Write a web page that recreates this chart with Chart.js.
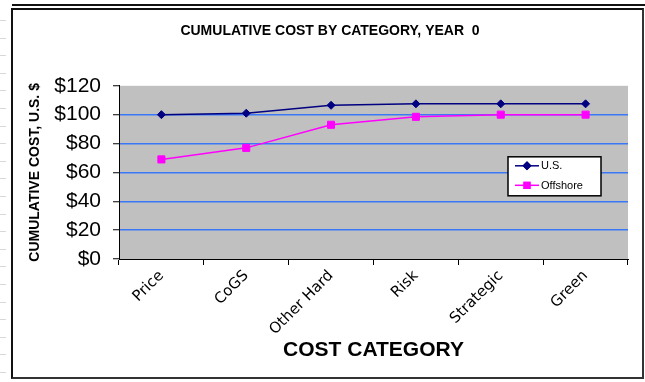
<!DOCTYPE html>
<html>
<head>
<meta charset="utf-8">
<script src="https://cdn.jsdelivr.net/npm/chart.js@4"></script>
<style>
  html, body { margin: 0; padding: 0; background: #fff; }
  #wrap { position: relative; width: 645px; height: 382px; overflow: hidden; }
  #chart { position: absolute; left: 0; top: 0; }
  .frame { position: absolute; left: 11px; top: 8px; width: 629px; height: 367px;
           border: 2px solid #111; border-right-color: #333; border-bottom-color: #333; }
  .topline { position: absolute; left: 12px; top: 4px; width: 633px; height: 2px; background: #111; }
  .rowtick { position: absolute; left: 0; width: 6px; height: 1px; background: #d8d8d8; }
</style>
</head>
<body>
<div id="wrap">
  <div class="topline"></div>
  <div class="frame"></div>
  <canvas id="chart" width="645" height="382"></canvas>
</div>
<script>
// Cost categories along the x axis
const categories = ['Price', 'CoGS', 'Other Hard', 'Risk', 'Strategic', 'Green'];
// Cumulative cost per category, U.S. dollars
const usCost = [100, 101, 106.5, 107.5, 107.5, 107.5];
const offshoreCost = [69, 77, 93, 98.5, 100, 100];
const seriesNames = ['U.S.', 'Offshore'];
// Y axis range and tick spacing
const yMin = 0;
const yMax = 120;
const yStep = 20;

// faint spreadsheet row marks along the left edge
const wrap = document.getElementById('wrap');
for (let y = 20; y < 380; y += 17.6) {
  const d = document.createElement('div');
  d.className = 'rowtick';
  d.style.top = Math.round(y) + 'px';
  wrap.appendChild(d);
}

const SANS = "'Liberation Sans', Arial, sans-serif";
const WIDE = "'DejaVu Sans', Verdana, sans-serif";
const GRID_BLUE = '#3a78f8';

// grey plot area
const plotBackground = {
  id: 'plotBackground',
  beforeDraw(chart) {
    const { ctx, chartArea: a } = chart;
    ctx.save();
    ctx.fillStyle = '#c0c0c0';
    ctx.fillRect(a.left, a.top, a.right - a.left, a.bottom - a.top);
    ctx.restore();
  }
};

// boxed legend inside the plot area
const boxLegend = {
  id: 'boxLegend',
  afterDatasetsDraw(chart) {
    const { ctx, chartArea: a } = chart;
    const x = a.right - 120, y = a.top + 71, w = 93, h = 39;
    ctx.save();
    ctx.fillStyle = '#fff';
    ctx.fillRect(x, y, w, h);
    ctx.strokeStyle = '#000';
    ctx.lineWidth = 1.5;
    ctx.strokeRect(x, y, w, h);
    chart.data.datasets.forEach((ds, i) => {
      const ly = y + 9 + i * 19.5;
      ctx.strokeStyle = ds.borderColor;
      ctx.lineWidth = 1.5;
      ctx.beginPath();
      ctx.moveTo(x + 7, ly);
      ctx.lineTo(x + 31, ly);
      ctx.stroke();
      Chart.helpers.drawPoint(ctx, {
        pointStyle: ds.pointStyle,
        radius: i === 0 ? 3.5 : 4,
        borderWidth: 1
      }, x + 19, ly);
      ctx.fillStyle = ds.borderColor;
      ctx.strokeStyle = ds.borderColor;
      ctx.fill();
      ctx.stroke();
      ctx.fillStyle = '#000';
      ctx.font = '11px ' + SANS;
      ctx.textBaseline = 'middle';
      ctx.textAlign = 'left';
      ctx.fillText(ds.label, x + 33, ly + 0.5);
    });
    ctx.restore();
  }
};

new Chart(document.getElementById('chart'), {
  type: 'line',
  data: {
    labels: categories,
    datasets: [
      {
        label: seriesNames[0],
        data: usCost,
        borderColor: '#000080',
        backgroundColor: '#000080',
        borderWidth: 1.5,
        pointStyle: 'rectRot',
        pointRadius: 4,
        pointBorderWidth: 1,
        tension: 0
      },
      {
        label: seriesNames[1],
        data: offshoreCost,
        borderColor: '#ff00ff',
        backgroundColor: '#ff00ff',
        borderWidth: 1.5,
        pointStyle: 'rect',
        pointRadius: 5,
        pointBorderWidth: 1,
        tension: 0
      }
    ]
  },
  options: {
    responsive: false,
    animation: false,
    events: [],
    layout: { padding: { left: 32, right: 17, top: 0, bottom: 0 } },
    plugins: {
      legend: { display: false },
      tooltip: { enabled: false },
      title: {
        display: true,
        text: 'CUMULATIVE COST BY CATEGORY, YEAR  0',
        color: '#000',
        font: { family: SANS, size: 14, weight: 'bold' },
        padding: { top: 23, bottom: 46 }
      }
    },
    scales: {
      x: {
        offset: true,
        afterFit(s) { s.height = 123; },
        grid: {
          offset: true,
          drawOnChartArea: false,
          drawTicks: true,
          tickLength: 6,
          tickColor: '#000',
          tickWidth: 1
        },
        border: { display: true, color: '#000', width: 1 },
        ticks: {
          minRotation: 45,
          maxRotation: 45,
          padding: 2,
          color: '#000',
          font: { family: WIDE, size: 15 }
        },
        title: {
          display: true,
          text: 'COST CATEGORY',
          color: '#000',
          font: { family: SANS, size: 21, weight: 'bold' },
          padding: { top: 0, bottom: 19 }
        }
      },
      y: {
        min: yMin,
        max: yMax,
        afterFit(s) { s.width = 87; },
        grid: {
          color: (c) => (c.tick && c.tick.value > yMin && c.tick.value < yMax) ? GRID_BLUE : 'rgba(0,0,0,0)',
          lineWidth: 1.5,
          drawTicks: true,
          tickLength: 6,
          tickColor: '#000',
          tickWidth: 1
        },
        border: { display: true, color: '#000', width: 1 },
        ticks: {
          stepSize: yStep,
          padding: 12,
          color: '#000',
          font: { family: SANS, size: 21 },
          callback: (v) => '$' + v
        },
        title: {
          display: true,
          text: 'CUMULATIVE COST, U.S. $',
          color: '#000',
          font: { family: SANS, size: 14, weight: 'bold' },
          padding: { top: -5, bottom: 0 }
        }
      }
    }
  },
  plugins: [plotBackground, boxLegend]
});
</script>
</body>
</html>
